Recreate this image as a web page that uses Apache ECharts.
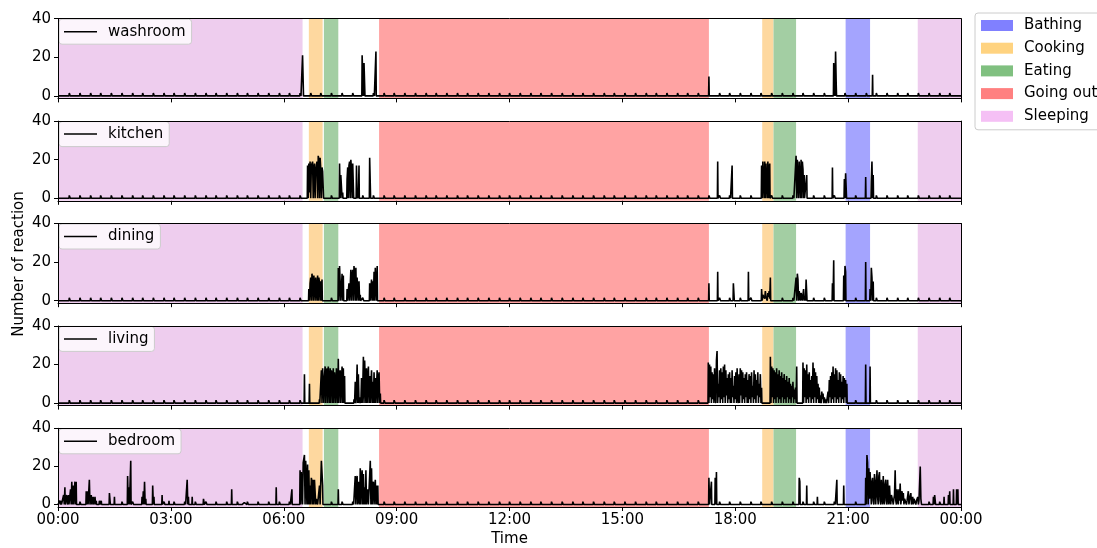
<!DOCTYPE html>
<html>
<head>
<meta charset="utf-8">
<title>Room reactions</title>
<script src="https://cdn.jsdelivr.net/npm/echarts@6/dist/echarts.min.js"></script>
<style>
  html, body { margin: 0; padding: 0; background: #fff; }
  #main { width: 1097px; height: 548px; }
</style>
</head>
<body>
<div id="main"></div>
<script>
// rooms, top to bottom
var rooms = ['washroom', 'kitchen', 'dining', 'living', 'bedroom'];

// activity bands [name, start, end]
var activityNames = ['Bathing', 'Cooking', 'Eating', 'Going out', 'Sleeping'];
var activityBands = [
  ['Sleeping', '00:00', '06:30'],
  ['Cooking', '06:40', '07:02'],
  ['Eating', '07:04', '07:27'],
  ['Going out', '08:32', '17:18'],
  ['Cooking', '18:43', '19:01'],
  ['Eating', '19:01', '19:37'],
  ['Bathing', '20:56', '21:35'],
  ['Sleeping', '22:51', '24:00']
];

// small periodic readings seen along the baseline
var pulseTimes = ['00:18','00:35','00:52','01:08','01:25','01:42','01:59','02:15','02:32','02:49','03:05','03:22',
  '03:39','03:56','04:12','04:29','04:46','05:02','05:19','05:36','05:53','06:09','06:26','06:43','06:59','07:16',
  '07:33','07:50','08:06','08:23','08:40','08:56','09:13','09:30','09:47','10:03','10:20','10:37','10:53','11:10',
  '11:27','11:44','12:00','12:17','12:34','12:50','13:07','13:24','13:41','13:57','14:14','14:31','14:47','15:04',
  '15:21','15:38','15:54','16:11','16:28','16:44','17:01','17:18','17:35','17:51','18:08','18:25','18:41','18:58',
  '19:15','19:32','19:48','20:05','20:22','20:38','20:55','21:12','21:29','21:45','22:02','22:19','22:35','22:52',
  '23:09','23:26','23:42'];
var pulseValues = [1.5, 1.5];

// bursts: [start time, one value per minute]
var washroomBursts = [
  ['06:30', [21, 20]],
  ['08:05', [21, 20, 0, 17, 17]],
  ['08:27', [23]],
  ['17:18', [10]],
  ['20:37', [17, 17, 0, 23, 6]],
  ['21:39', [11]]
];

var kitchenBursts = [
  ['06:38', [17,0,18,3,19,0,17,16,19,0,15,18,0,14,17,19,0,22,20,0,21,15,0,16,14,15]],
  ['07:29', [18,0,12,6,0,3]],
  ['07:41', [10,16,0,17,19,0,20,15,0,18,17]],
  ['07:56', [17,0,2,0,17]],
  ['08:17', [21,20]],
  ['17:32', [19]],
  ['17:55', [17]],
  ['18:42', [17,0,19,18,0,19,0,18,17,0,19,0,16,18]],
  ['19:37', [22,0,20,21,0,19,18,0,20,0,19,15,0,12]],
  ['19:54', [12]],
  ['20:35', [16]],
  ['20:54', [10,0,13,12]],
  ['21:28', [11]],
  ['21:37', [9,19,0,12]]
];

var diningBursts = [
  ['06:40', [6,0,9,12,0,14,11,0,13,8,0,12,6,0,13,0,12,9,0,10,0,11]],
  ['07:27', [17,0,18,9,0,0,14,0,13]],
  ['07:41', [6,0,5,9,0,7,16,0,12,16,0,18,14,0,17,0,12,11,0,10,0,3]],
  ['08:17', [9,0,6,11,0,10,0,15,0,17,16,0,18]],
  ['17:18', [9]],
  ['17:32', [15]],
  ['17:57', [9,8]],
  ['18:21', [15]],
  ['18:42', [6,0,3,2,4,1,5,2,3,0,4,2,5,1,12]],
  ['19:37', [12,0,14,11,0,5,3,0,4,2,0,3,6,0,2,0,11,10]],
  ['20:35', [9,0,21]],
  ['20:53', [13,0,18,15]],
  ['21:28', [20]],
  ['21:35', [6,0,17,12,0,10]]
];

var livingBursts = [
  ['06:33', [15]],
  ['06:41', [10]],
  ['06:57', [2]],
  ['07:00', [17,0,18,19,0,14,19,0,16,18,0,19,12,0,18,0,17,15,0,18,0,16,11,0,18,17,0,23,0,15,17,0,12,19,0,18,0,14]],
  ['07:52', [2,0,11,0,6,20,0,15,0,0,3,0,13,0,8,24,0,22,21,0,18,0,12,19,0,14,0,9,17,0,11,0,16,0,13,0,9,17,0,12,16,0,5]],
  ['17:17', [21,0,20,3,19,0,16,2,15,0,18,4,0,22,27,0,10,3,17,0,18,2,16,0,19,3,20,0,17,4,
             13,0,15,2,16,0,13,0,17,3,9,0,14,2,16,0,18,3,0,15,0,18,4,17,0,16,2,13,0,15,
             3,16,0,12,0,15,2,14,0,16,3,9,0,17,2,15,0,12,4,16,0,10,3,15,0,8]],
  ['18:56', [24,0,19,3,18,0,17,2,16,0,18,3,15,0,17,2,14,0,16,3,13,0,15,2,12,0,14,3,11,0,13,2,10,0,9,3,11,0,7,2,8,0,19]],
  ['19:48', [21,0,18,3,17,0,20,2,15,0,16,3,12,0,14,2,21,0,18,3,16,0,14,2,10,0,8,0]],
  ['20:16', [4,0,6,2,5,0,3,4,0,2]],
  ['20:28', [6,0,12,3,14,0,16,2,19,0,15,3,18,0,17,2,12,0,16,3,15,0,11,2,14,0,13,3,12,0,10]],
  ['21:28', [20]],
  ['21:35', [19]]
];

var bedroomBursts = [
  ['00:03', [2,0,2]],
  ['00:09', [5,0,9]],
  ['00:14', [5,0,0,5]],
  ['00:20', [8,0,12,0,10,0,0,12,0,12]],
  ['00:45', [7,0,7,0,0,13,0,0,5,0,0,4,0,0,4,0,2]],
  ['01:06', [2,0,0,2]],
  ['01:22', [6,5]],
  ['01:30', [4]],
  ['01:51', [15,0,9,0,0,23]],
  ['02:14', [4,0,7,0,12,0,3]],
  ['02:31', [10,0,4]],
  ['02:46', [5]],
  ['02:57', [2]],
  ['03:13', [1]],
  ['03:26', [13,0,4]],
  ['03:34', [4]],
  ['03:52', [3,3]],
  ['04:08', [1]],
  ['04:21', [1]],
  ['04:37', [8]],
  ['04:54', [1,0,0,1]],
  ['05:15', [1]],
  ['05:32', [1]],
  ['05:48', [9]],
  ['06:04', [1]],
  ['06:13', [8]],
  ['06:26', [18,0,17,18,0,22,24,26,0,23,24,0,21,0,18,0,10,0,14,12,0,13,0,13,12,0,3,3,0,0,0,10,0,0,23,22,10]],
  ['07:27', [8]],
  ['07:42', [1]],
  ['07:54', [15,0,13,15,0,12,3,0,19,0,14,18,0,16,0,9,0,18,0,5,8,0,0,15,23,0,19,0,9,12,0,7,13,0,10,0,10]],
  ['17:18', [14,0,0,0,12]],
  ['17:28', [14,0,17]],
  ['19:42', [14,12]],
  ['19:54', [10]],
  ['20:11', [4]],
  ['20:42', [13]],
  ['20:53', [10]],
  ['21:28', [14,0,26,22,0,19,3,17,18,0,12,14,2,0,16,12,0,9,18,4,
             0,15,17,2,0,13,5,0,15,3,0,11,13,2,0,13,4,0,10,3,
             0,5,6,2,0,3,5,18,2,0,8,3,0,8,2,11,0,3,7,2,
             6,0,3,2,4,0,2,3,7,0,3,2,6,0,2,4,0,3,2,4,
             0,2,3,4,0,2,3,20,3,0]],
  ['23:16', [4,0,5,6]],
  ['23:33', [4]],
  ['23:40', [5,0,7]],
  ['23:48', [8]],
  ['23:53', [8,0,8]]
];

var roomBursts = [washroomBursts, kitchenBursts, diningBursts, livingBursts, bedroomBursts];

var bandColors = {
  'Bathing': '#a4a4fe', 'Cooking': '#fed89f', 'Eating': '#a3cea3',
  'Going out': '#ffa3a3', 'Sleeping': '#eecdee'
};
var patchColors = {
  'Bathing': '#8080ff', 'Cooking': '#ffd380', 'Eating': '#80c080',
  'Going out': '#ff8080', 'Sleeping': '#f5c0f5'
};

var gridTops = [18.7, 121.1, 223.5, 325.9, 428.3];
var gridH = 79.7;
var FONT = 'DejaVu Sans';

function toMin(s) {
  var p = s.split(':');
  return +p[0] * 60 + +p[1];
}
function pad(n) { return (n < 10 ? '0' : '') + n; }
function fmtTime(v) {
  return pad(Math.floor(v / 60) % 24) + ':' + pad(v % 60);
}

function buildData(bursts) {
  var ranges = bursts.map(function (b) {
    var s = toMin(b[0]);
    return [s, s + b[1].length - 1];
  });
  var all = bursts.slice();
  pulseTimes.forEach(function (t) {
    var m = toMin(t);
    var hit = ranges.some(function (r) { return m >= r[0] - 3 && m <= r[1] + 2; });
    if (!hit) all.push([t, pulseValues]);
  });
  all.sort(function (a, b) { return toMin(a[0]) - toMin(b[0]); });
  var pts = [[0, 0]];
  all.forEach(function (b) {
    var s = toMin(b[0]);
    pts.push([s - 0.5, 0]);
    b[1].forEach(function (v, i) { pts.push([s + i, v]); });
    pts.push([s + b[1].length - 0.5, 0]);
  });
  pts.push([1440, 0]);
  return pts;
}

var bandData = activityBands.map(function (b) {
  return [{ xAxis: toMin(b[1]), itemStyle: { color: bandColors[b[0]], opacity: 1 } }, { xAxis: toMin(b[2]) }];
});

var grids = [], xAxes = [], yAxes = [], series = [], legends = [];

rooms.forEach(function (room, i) {
  grids.push({ left: 58, right: 136, top: gridTops[i], height: gridH, show: false });
  xAxes.push({
    gridIndex: i, type: 'value', min: 0, max: 1440, interval: 180, z: 10,
    axisLine: { show: true, onZero: false, lineStyle: { color: '#000', width: 1 } },
    axisTick: { show: true, length: 4, lineStyle: { color: '#000' } },
    axisLabel: { show: i === 4, formatter: fmtTime, fontFamily: FONT, fontSize: 15, color: '#000', margin: 6 },
    splitLine: { show: false },
    name: i === 4 ? 'Time' : '', nameLocation: 'middle', nameGap: 25,
    nameTextStyle: { fontFamily: FONT, fontSize: 15, color: '#000' }
  });
  yAxes.push({
    gridIndex: i, type: 'value', min: -1.3, max: 40, z: 10,
    axisLine: { show: true, lineStyle: { color: '#000', width: 1 } },
    axisTick: { show: true, length: 4, customValues: [0, 20, 40], lineStyle: { color: '#000' } },
    axisLabel: { customValues: [0, 20, 40], fontFamily: FONT, fontSize: 15, color: '#000', margin: 7 },
    splitLine: { show: false }
  });
  series.push({
    type: 'line', xAxisIndex: i, yAxisIndex: i, data: [], silent: true, z: 1,
    markArea: { silent: true, data: bandData }
  });
  series.push({
    name: room, type: 'line', xAxisIndex: i, yAxisIndex: i, z: 3,
    data: buildData(roomBursts[i]),
    symbol: 'none', showSymbol: false,
    lineStyle: { color: '#000', width: 1.6 },
    itemStyle: { color: '#000' }
  });
  legends.push({
    data: [room], left: 59, top: gridTops[i] + 0.5, selectedMode: false,
    icon: 'rect', itemWidth: 33, itemHeight: 1.5,
    padding: [5, 6, 5, 5],
    backgroundColor: 'rgba(255,255,255,0.8)', borderColor: '#cccccc', borderWidth: 1, borderRadius: 3,
    textStyle: { fontFamily: FONT, fontSize: 15, color: '#000', padding: [0, 0, 0, 6] }
  });
});

// frame: top and right spines
rooms.forEach(function (room, i) {
  xAxes.push({
    gridIndex: i, type: 'value', position: 'top', min: 0, max: 1440, z: 10,
    axisLine: { show: true, onZero: false, lineStyle: { color: '#000', width: 1 } },
    axisTick: { show: false }, axisLabel: { show: false }, splitLine: { show: false }
  });
  yAxes.push({
    gridIndex: i, type: 'value', position: 'right', min: -1.3, max: 40, z: 10,
    axisLine: { show: true, onZero: false, lineStyle: { color: '#000', width: 1 } },
    axisTick: { show: false }, axisLabel: { show: false }, splitLine: { show: false }
  });
});

// activity legend entries
activityNames.forEach(function (name) {
  series.push({ name: name, type: 'line', xAxisIndex: 0, yAxisIndex: 0, data: [],
    itemStyle: { color: patchColors[name] }, lineStyle: { color: patchColors[name] } });
});
legends.push({
  data: activityNames, orient: 'vertical', left: 975, top: 13, selectedMode: false,
  icon: 'rect', itemWidth: 32, itemHeight: 11, itemGap: 7.7,
  padding: [5, 6, 6, 6],
  backgroundColor: '#fff', borderColor: '#cccccc', borderWidth: 1, borderRadius: 3,
  textStyle: { fontFamily: FONT, fontSize: 15, color: '#000', padding: [0, 0, 0, 6] }
});

var option = {
  animation: false,
  backgroundColor: '#fff',
  textStyle: { fontFamily: FONT },
  grid: grids,
  xAxis: xAxes,
  yAxis: yAxes,
  legend: legends,
  series: series,
  graphic: [{
    type: 'text', x: 19, y: 264, rotation: Math.PI / 2,
    style: { text: 'Number of reaction', font: '15px "DejaVu Sans"', fill: '#000', align: 'center', verticalAlign: 'middle' }
  }]
};

var myChart = echarts.init(document.getElementById('main'));
myChart.setOption(option);
</script>
</body>
</html>
